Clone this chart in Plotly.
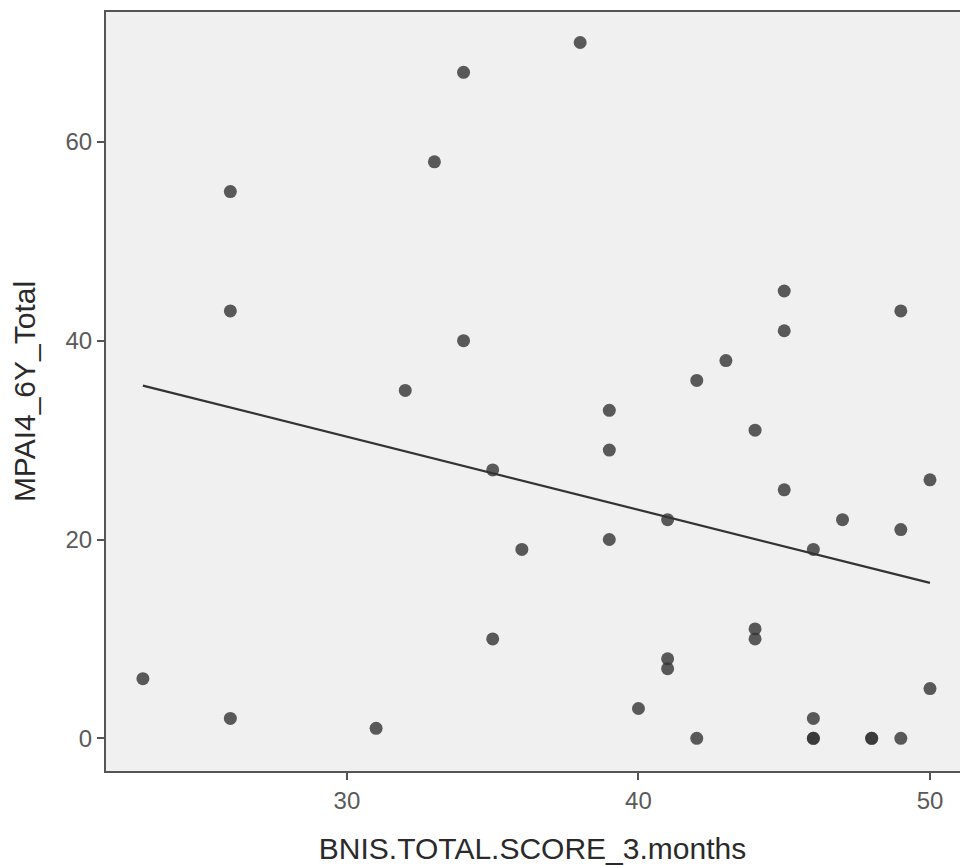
import numpy as np
import plotly.graph_objects as go

bnis = [23, 26, 26, 26, 31, 32, 33, 34, 34, 35, 35, 36, 38, 39, 39, 39, 40, 41, 41, 41,
        42, 42, 43, 44, 44, 44, 45, 45, 45, 46, 46, 46, 46, 47, 48, 48, 49, 49, 49, 50, 50]
mpai = [6, 55, 43, 2, 1, 35, 58, 67, 40, 27, 10, 19, 70, 33, 29, 20, 3, 22, 8, 7,
        36, 0, 38, 31, 11, 10, 45, 41, 25, 19, 2, 0, 0, 22, 0, 0, 43, 21, 0, 26, 5]

x_ticks = [30, 40, 50]
y_ticks = [0, 20, 40, 60]

slope, intercept = np.polyfit(bnis, mpai, 1)
xl = np.array([min(bnis), max(bnis)])
yl = intercept + slope * xl

fig = go.Figure()
fig.add_trace(go.Scatter(x=bnis, y=mpai, mode="markers",
                         marker=dict(color="rgba(51,51,51,0.8)", size=13, line=dict(width=0)),
                         showlegend=False, hoverinfo="x+y"))
fig.add_trace(go.Scatter(x=xl, y=yl, mode="lines", line=dict(color="#333333", width=2.2),
                         showlegend=False))

fig.update_layout(
    width=960, height=865,
    margin=dict(l=105, r=0, t=11, b=93),
    paper_bgcolor="white", plot_bgcolor="#f0f0f0",
    font=dict(family="Liberation Sans, Arial, sans-serif", color="#4d4d4d", size=24),
    xaxis=dict(range=[21.70, 51.03], tickvals=x_ticks, showgrid=False, zeroline=False,
               ticks="outside", ticklen=7, tickwidth=2, tickcolor="#555555",
               tickfont=dict(size=24, color="#5a5a5a"),
               title=dict(text="BNIS.TOTAL.SCORE_3.months", font=dict(size=30, color="#2a2a2a"), standoff=25)),
    yaxis=dict(range=[-3.39, 73.17], tickvals=y_ticks, showgrid=False, zeroline=False,
               ticks="outside", ticklen=7, tickwidth=2, tickcolor="#555555",
               tickfont=dict(size=24, color="#5a5a5a"),
               title=dict(text="MPAI4_6Y_Total", font=dict(size=30, color="#2a2a2a"), standoff=20)),
    shapes=[dict(type="rect", xref="paper", yref="paper", x0=0, x1=1.05, y0=0, y1=1,
                 line=dict(color="#555555", width=2), fillcolor="rgba(0,0,0,0)", layer="above")],
)

fig.write_html("out.html", config={"displayModeBar": False},
               post_script="document.body.style.margin='0';document.body.style.overflow='hidden';")
